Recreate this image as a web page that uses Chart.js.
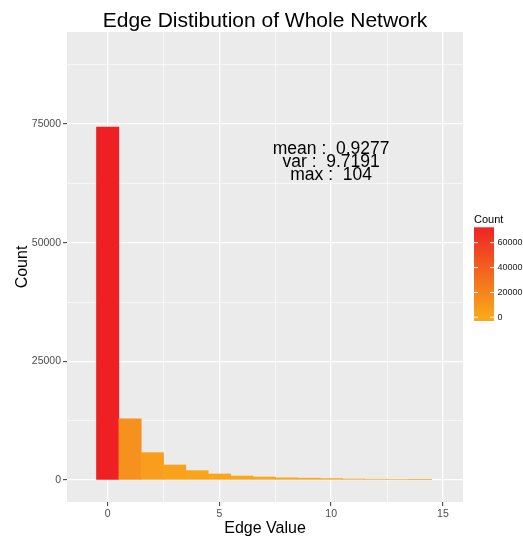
<!DOCTYPE html>
<html>
<head>
<meta charset="utf-8">
<script src="https://cdn.jsdelivr.net/npm/chart.js@4"></script>
<style>
html,body{margin:0;padding:0;background:#fff;}
canvas{display:block;}
</style>
</head>
<body>
<canvas id="c" width="523" height="536"></canvas>
<script>
// ---- data ----
const edgeValues = [0,1,2,3,4,5,6,7,8,9,10,11,12,13,14];
const counts = [74400,12900,5760,3160,1970,1265,840,630,450,380,300,200,160,130,110];
const xTickValues = [0,5,10,15];
const xMinorValues = [2.5,7.5,12.5];
const yTickValues = [0,25000,50000,75000];
const yMinorValues = [12500,37500,62500,87500];
const legendTickValues = [0,20000,40000,60000];
const statLines = ['mean :  0.9277','var :  9.7191','max :  104'];
const statPos = {x:10, y:67000};
const titleText = 'Edge Distibution of Whole Network';
const xTitle = 'Edge Value';
const yTitle = 'Count';
const legendTitle = 'Count';

// ---- style ----
const FONT = '"Liberation Sans", Arial, Helvetica, sans-serif';
const LOW = [249,168,27], HIGH = [238,32,36];
const lo = Math.min(...counts), hi = Math.max(...counts);
function colorFor(v){
  let t = (v-lo)/(hi-lo); t = Math.max(0,Math.min(1,t));
  const c = LOW.map((l,i)=>Math.round(l+(HIGH[i]-l)*t));
  return `rgb(${c[0]},${c[1]},${c[2]})`;
}
function buildTicks(major, minor){
  return [...major.map(v=>({value:v, major:true})), ...minor.map(v=>({value:v, major:false}))]
    .sort((a,b)=>a.value-b.value);
}
function isMajor(ctx, list){ return ctx.tick && list.includes(ctx.tick.value); }

const panelBg = {
  id:'panelBg',
  beforeDraw(chart){
    const {ctx, chartArea:a} = chart;
    ctx.save();
    ctx.fillStyle = '#EBEBEB';
    ctx.fillRect(a.left, a.top, a.right-a.left, a.bottom-a.top);
    ctx.restore();
  }
};

const decorations = {
  id:'decorations',
  afterDraw(chart){
    const {ctx, chartArea:a, scales} = chart;
    ctx.save();
    // title
    ctx.fillStyle = '#000';
    ctx.font = `21px ${FONT}`;
    ctx.textAlign = 'center';
    ctx.textBaseline = 'alphabetic';
    ctx.fillText(titleText, (a.left+a.right)/2, 26.5);
    // x title
    ctx.font = `16px ${FONT}`;
    ctx.fillText(xTitle, (a.left+a.right)/2, 533);
    // y title
    ctx.save();
    ctx.translate(26.5, (a.top+a.bottom)/2);
    ctx.rotate(-Math.PI/2);
    ctx.fillText(yTitle, 0, 0);
    ctx.restore();
    // annotation
    ctx.font = `17.5px ${FONT}`;
    ctx.textBaseline = 'middle';
    const ax = scales.x.getPixelForValue(statPos.x);
    const ay = scales.y.getPixelForValue(statPos.y);
    const lh = 13;
    statLines.forEach((s,i)=>{
      ctx.fillText(s, ax, ay + (i-(statLines.length-1)/2)*lh);
    });
    // legend
    const bx = 474, bw = 20, bTop = 227.3, bBot = 321;
    const zeroY = 317.3, k = 74.6/60000;
    const vAt = y => (zeroY - y)/k;
    const g = ctx.createLinearGradient(0, bTop, 0, bBot);
    for (let i=0;i<=20;i++){
      const y = bTop + (bBot-bTop)*i/20;
      g.addColorStop(i/20, colorFor(vAt(y)));
    }
    ctx.fillStyle = g;
    ctx.fillRect(bx, bTop, bw, bBot-bTop);
    ctx.strokeStyle = '#fff';
    ctx.lineWidth = 1;
    ctx.font = `9px ${FONT}`;
    ctx.textAlign = 'left';
    ctx.textBaseline = 'middle';
    legendTickValues.forEach(v=>{
      const y = zeroY - v*k;
      ctx.beginPath();
      ctx.moveTo(bx, y); ctx.lineTo(bx+4, y);
      ctx.moveTo(bx+bw-4, y); ctx.lineTo(bx+bw, y);
      ctx.stroke();
      ctx.fillStyle = '#1a1a1a';
      ctx.fillText(String(v), 497.5, y);
    });
    ctx.fillStyle = '#000';
    ctx.font = `11px ${FONT}`;
    ctx.fillText(legendTitle, 474, 219.5);
    ctx.restore();
  }
};

new Chart(document.getElementById('c'), {
  type:'bar',
  data:{
    datasets:[{
      data: edgeValues.map((x,i)=>({x, y:counts[i]})),
      backgroundColor: counts.map(colorFor),
      borderWidth:0,
      barPercentage:1,
      categoryPercentage:1
    }]
  },
  options:{
    responsive:false,
    animation:false,
    devicePixelRatio:1,
    layout:{padding:{left:0,right:60,top:32,bottom:0}},
    plugins:{legend:{display:false}, tooltip:{enabled:false}, title:{display:false}},
    scales:{
      x:{
        type:'linear',
        min:-1.82, max:15.9,
        offset:false,
        afterBuildTicks(s){ s.ticks = buildTicks(xTickValues, xMinorValues); },
        afterFit(s){ s.height = 34; },
        border:{display:false},
        grid:{
          offset:false,
          color:'#fff',
          lineWidth: c => isMajor(c, xTickValues) ? 1.3 : 0.6,
          tickColor: c => isMajor(c, xTickValues) ? '#333' : 'rgba(0,0,0,0)',
          tickWidth: 1,
          tickLength: 4,
          drawTicks:true
        },
        ticks:{
          autoSkip:false, maxRotation:0, padding:2,
          color:'#4D4D4D',
          font:{family:FONT, size:10.5},
          callback: v => xTickValues.includes(v) ? String(v) : ''
        }
      },
      y:{
        type:'linear',
        min:-4637, max:94418,
        afterBuildTicks(s){ s.ticks = buildTicks(yTickValues, yMinorValues); },
        afterFit(s){ s.width = 67; },
        border:{display:false},
        grid:{
          color:'#fff',
          lineWidth: c => isMajor(c, yTickValues) ? 1.3 : 0.6,
          tickColor: c => isMajor(c, yTickValues) ? '#333' : 'rgba(0,0,0,0)',
          tickWidth: 1,
          tickLength: 4,
          drawTicks:true
        },
        ticks:{
          autoSkip:false, padding:2,
          color:'#4D4D4D',
          font:{family:FONT, size:10.5},
          callback: v => yTickValues.includes(v) ? String(v) : ''
        }
      }
    }
  },
  plugins:[panelBg, decorations]
});
</script>
</body>
</html>
